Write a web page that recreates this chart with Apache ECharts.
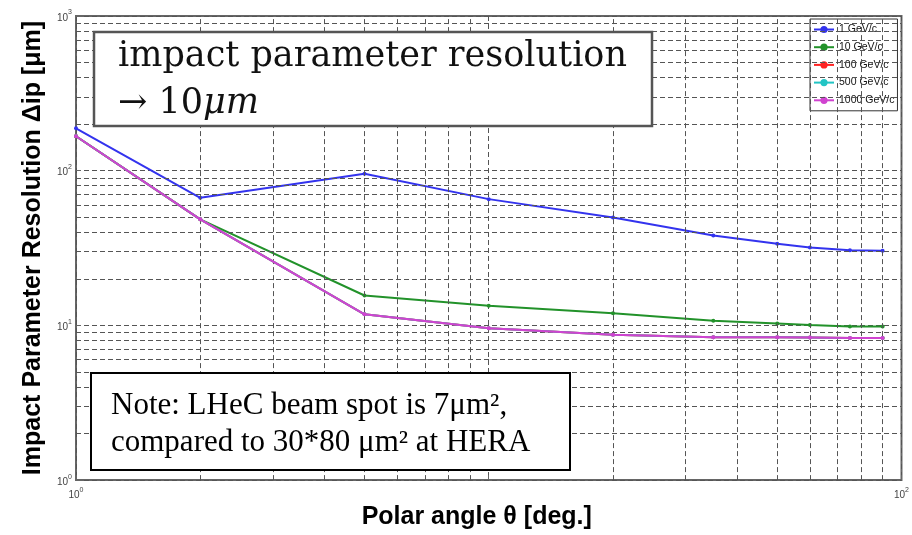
<!DOCTYPE html>
<html>
<head>
<meta charset="utf-8">
<script src="https://cdn.jsdelivr.net/npm/echarts@6/dist/echarts.min.js"></script>
<style>
html,body{margin:0;padding:0;background:#fff;}
#chart{width:912px;height:535px;}
</style>
</head>
<body>
<div id="chart"></div>
<script>
// ---- data ----
const polarAngles = [1, 2, 5, 10, 20, 35, 50, 60, 75, 90];
const res1GeV    = [188, 66.8, 95.7, 65.5, 49.8, 38.1, 33.7, 31.9, 30.6, 30.4];
const res10GeV   = [167, 48.5, 15.6, 13.4, 12.0, 10.7, 10.3, 10.05, 9.85, 9.85];
const res100GeV  = [167, 48.5, 11.8, 9.57, 8.7, 8.38, 8.38, 8.35, 8.3, 8.3];
const res500GeV  = [167, 48.5, 11.8, 9.57, 8.7, 8.38, 8.38, 8.35, 8.3, 8.3];
const res1000GeV = [167, 48.5, 11.8, 9.57, 8.7, 8.38, 8.38, 8.35, 8.3, 8.3];
const seriesNames = ['1 GeV/c', '10 GeV/c', '100 GeV/c', '500 GeV/c', '1000 GeV/c'];
const xMinorGrid = [2, 3, 4, 5, 6, 7, 8, 9, 20, 30, 40, 50, 60, 70, 80, 90];
const yMinorGrid = [2, 3, 4, 5, 6, 7, 8, 9, 20, 30, 40, 50, 60, 70, 80, 90, 200, 300, 400, 500, 600, 700, 800, 900];
const xName = 'Polar angle θ [deg.]';
const yName = 'Impact Parameter Resolution Δip [μm]';
const box1Line1 = 'impact parameter resolution';
const box2Line1 = 'Note: LHeC beam spot is 7μm²,';
const box2Line2 = 'compared to 30*80 μm² at HERA';

const colors = ['#3333ee', '#22922a', '#ff2222', '#22c4c4', '#d043d0'];
const allRes = [res1GeV, res10GeV, res100GeV, res500GeV, res1000GeV];

function pairs(xs, ys) { return xs.map((x, i) => [x, ys[i]]); }

const gridDash = { color: '#555', width: 1, type: [5, 3] };
const labelRich = {
  b: { fontSize: 10, color: '#444', fontFamily: 'Liberation Sans', verticalAlign: 'bottom', lineHeight: 14 },
  s: { fontSize: 7, color: '#444', fontFamily: 'Liberation Sans', verticalAlign: 'top', lineHeight: 14 }
};
function expLabel(v) {
  const e = Math.round(Math.log10(v));
  return '{b|10}{s|' + e + '}';
}

const series = seriesNames.map((name, i) => ({
  name: name,
  type: 'line',
  data: pairs(polarAngles, allRes[i]),
  symbol: 'circle',
  symbolSize: 4,
  lineStyle: { width: 2, color: colors[i] },
  itemStyle: { color: colors[i] },
  z: 3 + i
}));

series.unshift({
  name: 'grid',
  type: 'line',
  data: [],
  silent: true,
  z: 1,
  markLine: {
    silent: true,
    symbol: ['none', 'none'],
    label: { show: false },
    lineStyle: gridDash,
    emphasis: { disabled: true },
    animation: false,
    data: xMinorGrid.map(v => ({ xAxis: v })).concat(yMinorGrid.map(v => ({ yAxis: v })))
  }
});

const chart = echarts.init(document.getElementById('chart'), null, { renderer: 'canvas' });
chart.setOption({
  animation: false,
  backgroundColor: '#fff',
  grid: { left: 76, right: 8, top: 16, bottom: 51, show: true, borderColor: '#666', borderWidth: 2, backgroundColor: '#fff' },
  xAxis: {
    type: 'log', logBase: 10, min: 1, max: 100,
    axisLine: { show: false },
    axisTick: { show: true, inside: true, length: 5, lineStyle: { color: '#666' } },
    splitLine: { show: true, lineStyle: gridDash },
    axisLabel: { margin: 6, rich: labelRich, formatter: v => (Math.abs(v - 10) < 1e-6 ? '' : expLabel(v)) },
    name: xName, nameLocation: 'middle', nameGap: 20,
    nameTextStyle: { fontFamily: 'Liberation Sans', fontWeight: 'bold', fontSize: 25, color: '#000', padding: [0, 24, 0, 0], verticalAlign: 'top' }
  },
  yAxis: {
    type: 'log', logBase: 10, min: 1, max: 1000,
    axisLine: { show: false },
    axisTick: { show: true, inside: true, length: 5, lineStyle: { color: '#666' } },
    splitLine: { show: true, lineStyle: gridDash },
    axisLabel: { margin: 4, rich: labelRich, formatter: expLabel },
    name: yName, nameLocation: 'middle', nameGap: 27, nameRotate: 90,
    nameTextStyle: { fontFamily: 'Liberation Sans', fontWeight: 'bold', fontSize: 25, color: '#000' }
  },
  legend: {
    data: seriesNames,
    orient: 'vertical',
    left: 810, top: 19,
    padding: [5, 3, 5, 3],
    itemWidth: 20, itemHeight: 9, itemGap: 6.7,
    borderColor: '#333', borderWidth: 1, backgroundColor: '#fff',
    textStyle: { fontFamily: 'Liberation Sans', fontSize: 10.5, color: '#111', lineHeight: 9 }
  },
  series: series,
  graphic: [
    { type: 'rect', z: 100, shape: { x: 94, y: 32, width: 558, height: 94 },
      style: { fill: '#fff', stroke: '#555', lineWidth: 2.5 } },
    { type: 'text', z: 101, left: 118, top: 39,
      style: { text: box1Line1, fontFamily: 'DejaVu Serif', fontSize: 35, fill: '#111' } },
    { type: 'text', z: 101, left: 118, top: 86,
      style: { text: '{n|→ 10}{i|μm}', fill: '#111',
        rich: { n: { fontFamily: 'DejaVu Serif', fontSize: 35, fill: '#111' },
                i: { fontFamily: 'DejaVu Serif', fontStyle: 'italic', fontSize: 35, fill: '#111' } } } },
    { type: 'rect', z: 100, shape: { x: 91, y: 373, width: 479, height: 97 },
      style: { fill: '#fff', stroke: '#000', lineWidth: 2 } },
    { type: 'text', z: 101, left: 111, top: 390,
      style: { text: box2Line1, fontFamily: 'Liberation Serif', fontSize: 31, fill: '#000' } },
    { type: 'text', z: 101, left: 111, top: 427,
      style: { text: box2Line2, fontFamily: 'Liberation Serif', fontSize: 31, fill: '#000' } }
  ]
});
</script>
</body>
</html>
